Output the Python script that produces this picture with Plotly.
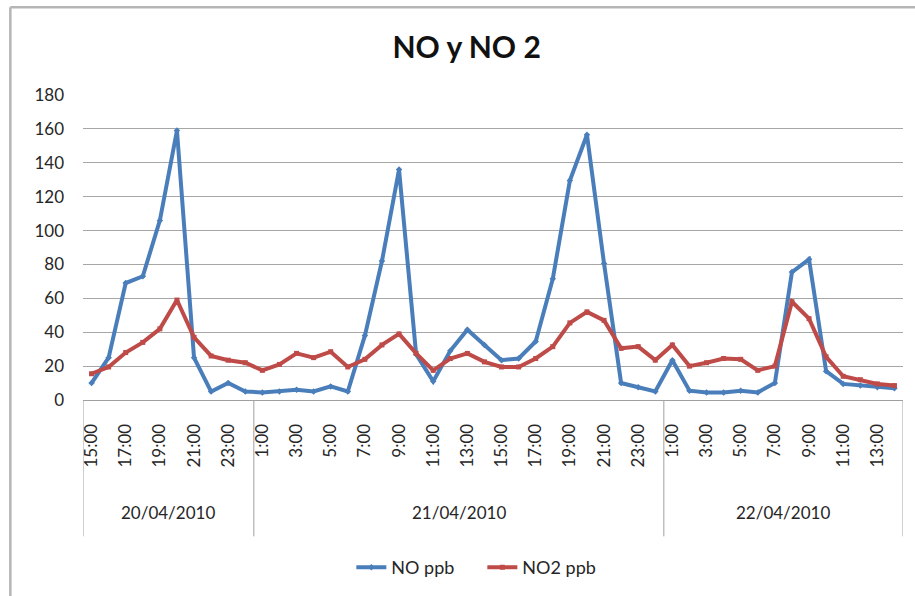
import plotly.graph_objects as go

# ---- data ----
dates = ["20/04/2010", "21/04/2010", "22/04/2010"]
hours_day1 = ["15:00", "16:00", "17:00", "18:00", "19:00", "20:00", "21:00", "22:00", "23:00", "0:00"]
hours_day2 = ["1:00", "2:00", "3:00", "4:00", "5:00", "6:00", "7:00", "8:00", "9:00", "10:00",
              "11:00", "12:00", "13:00", "14:00", "15:00", "16:00", "17:00", "18:00", "19:00",
              "20:00", "21:00", "22:00", "23:00", "0:00"]
hours_day3 = ["1:00", "2:00", "3:00", "4:00", "5:00", "6:00", "7:00", "8:00", "9:00", "10:00",
              "11:00", "12:00", "13:00", "14:00"]

no_ppb = [10, 25, 69, 73, 106, 159, 25, 5, 10, 5,
          4.5, 5, 6, 5, 8, 5, 38, 82, 136, 27, 11, 29, 41.5, 32.5, 23.5, 24.5, 34.5, 71.5,
          129.5, 156.5, 80.5, 10, 7.5, 5,
          23.5, 5.5, 4.5, 4.5, 5.5, 4.5, 10, 75.5, 83, 17, 9.5, 8.5, 7.5, 7]
no2_ppb = [15.5, 19.5, 28, 34, 42, 59, 37, 26, 23.5, 22,
           17.5, 21, 27.5, 25, 28.5, 19.5, 24, 32.5, 39, 27.5, 17.5, 24.5, 27.5, 22.5, 19.5,
           19.5, 24.5, 31.5, 45.5, 52, 47, 30.5, 31.5, 23.5,
           32.5, 20, 22, 24.5, 24, 17.5, 20, 58, 48, 25.5, 14, 12, 9.5, 8.5]

groups = [hours_day1, hours_day2, hours_day3]
hours = hours_day1 + hours_day2 + hours_day3
idx = list(range(len(hours)))

BLUE = "#4A7EBB"
RED = "#BE4B48"
FONT = "Lato"
TXT = "#262626"

fig = go.Figure()
fig.add_trace(go.Scatter(x=idx, y=no_ppb, mode="lines+markers", name="NO ppb",
                         line=dict(color=BLUE, width=4),
                         marker=dict(symbol="diamond", size=5, color=BLUE)))
fig.add_trace(go.Scatter(x=idx, y=no2_ppb, mode="lines+markers", name="NO2 ppb",
                         line=dict(color=RED, width=4),
                         marker=dict(symbol="square", size=5, color=RED)))

# group separators and date labels
shapes = []
annotations = []
bounds = [-0.5]
for g in groups:
    bounds.append(bounds[-1] + len(g))
for b in bounds:
    shapes.append(dict(type="line", xref="x", yref="paper", x0=b, x1=b, y0=0, y1=-0.447,
                       line=dict(color="#a0a0a0", width=1)))
for d, a, b in zip(dates, bounds[:-1], bounds[1:]):
    annotations.append(dict(x=(a + b) / 2, y=-0.368, xref="x", yref="paper", text=d,
                            showarrow=False, font=dict(family=FONT, size=17, color=TXT),
                            xanchor="center", yanchor="middle"))

# outer chart border (cropped)
shapes.append(dict(type="line", xref="paper", yref="paper", x0=-0.0886, x1=-0.0886,
                   y0=1.288, y1=-0.7, line=dict(color="#b5b5b5", width=2.5)))
shapes.append(dict(type="line", xref="paper", yref="paper", x0=-0.0886, x1=1.1,
                   y0=1.288, y1=1.288, line=dict(color="#b5b5b5", width=2.5)))

fig.update_layout(
    width=915, height=596,
    margin=dict(l=83, r=12, t=95, b=195),
    paper_bgcolor="white", plot_bgcolor="white",
    font=dict(family=FONT, size=17, color=TXT),
    title=dict(text="<b>NO y NO 2</b>", x=0.51, xref="container", xanchor="center",
               y=0.921, yref="container", yanchor="middle",
               font=dict(family=FONT, size=30, color="#111")),
    showlegend=True,
    legend=dict(orientation="h", x=0.487, xanchor="center", y=-0.544, yanchor="middle",
                entrywidth=86, entrywidthmode="pixels",
                font=dict(family=FONT, size=18, color=TXT), bgcolor="rgba(0,0,0,0)"),
    shapes=shapes,
    annotations=annotations,
)
fig.update_xaxes(range=[-0.5, len(hours) - 0.5], tickmode="array",
                 tickvals=idx[::2], ticktext=hours[::2], tickangle=-90,
                 showgrid=False, zeroline=False, showline=True, linecolor="#a0a0a0",
                 linewidth=1, ticks="", ticklabelstandoff=16, automargin=False,
                 tickfont=dict(family=FONT, size=17, color=TXT))
fig.update_yaxes(range=[0, 180], dtick=20, showgrid=True, gridcolor="#a6a6a6", gridwidth=1,
                 zeroline=False, showline=False, ticks="", ticklabelstandoff=18,
                 automargin=False,
                 tickfont=dict(family=FONT, size=17, color=TXT))

fig.write_html("out.html", config={"displayModeBar": False},
               post_script="document.body.style.margin='0';")
